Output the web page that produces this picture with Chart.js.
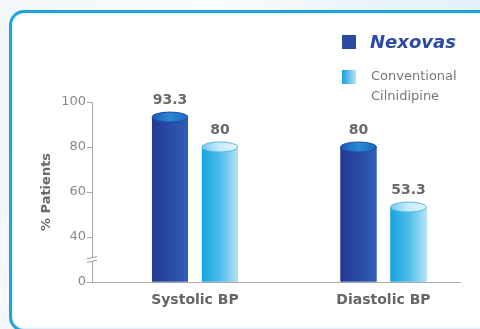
<!DOCTYPE html>
<html>
<head>
<meta charset="utf-8">
<script src="https://cdn.jsdelivr.net/npm/chart.js@4.4.0/dist/chart.umd.min.js"></script>
<style>
  html, body { margin: 0; padding: 0; width: 480px; height: 329px; overflow: hidden; }
  body {
    position: relative;
    background:
      linear-gradient(125deg, rgba(255,255,255,0) 0%, rgba(255,255,255,0.7) 30%, rgba(255,255,255,0) 55%),
      linear-gradient(160deg, #f2f8fc 0%, #e2eff8 45%, #d5e9f5 100%);
  }
  #panel {
    position: absolute; left: 9px; top: 10px; width: 500px; height: 322px;
    box-sizing: border-box; border: 3px solid #22a1db; border-radius: 15px;
    background: #fff; box-shadow: inset 0 0 3px rgba(34,161,219,0.35);
  }
  #wrap { position: absolute; left: 0; top: 0; width: 480px; height: 329px; }
</style>
</head>
<body>
<div id="panel"></div>
<div id="wrap"><canvas id="chart" width="480" height="329"></canvas></div>
<script>
// Response rates (% of patients) by blood-pressure component
const categories = ['Systolic BP', 'Diastolic BP'];
const nexovasValues = [93.3, 80];
const conventionalValues = [80, 53.3];
const seriesNames = ['Nexovas', 'Conventional\nCilnidipine'];

// Broken value axis: the lowest tick sits at 20 and is labelled 0
const yTickValues = [20, 40, 60, 80, 100];
const yTickLabels = ['0', '40', '60', '80', '100'];
const axisBreakValue = 30;

const FONT = 'DejaVu Sans';
const AXIS_GREY = '#a9a9a9';

const shades = [
  { body: ['#243a92', '#2a4aa5', '#2e5fb6'], cap: ['#175cb5', '#2b88d4', '#1c68bf'], ring: '#1d4ea6', swatch: '#2a4aa5' },
  { body: ['#16a2de', '#4cbce9', '#b8e3f7'], cap: ['#76c9ef', '#c9ecfb', '#e2f5fd'], ring: '#54bbe8', swatch: '#3db5e6' }
];

function toPoints(values) {
  return values.map((v, i) => ({ x: i + 1, y: v }));
}

// Cylinder look: shaded body plus an elliptical cap on every bar
const cylinderPlugin = {
  id: 'cylinder',
  afterDatasetsDraw(chart) {
    const ctx = chart.ctx;
    chart.data.datasets.forEach((ds, d) => {
      const meta = chart.getDatasetMeta(d);
      const s = shades[d];
      meta.data.forEach((el) => {
        const { x, y, base, width } = el.getProps(['x', 'y', 'base', 'width'], true);
        const left = x - width / 2;
        ctx.save();
        const g = ctx.createLinearGradient(left, 0, left + width, 0);
        g.addColorStop(0, s.body[0]);
        g.addColorStop(0.5, s.body[1]);
        g.addColorStop(1, s.body[2]);
        ctx.fillStyle = g;
        ctx.fillRect(left, y, width, base - y);
        const rx = width / 2, ry = 5;
        const cg = ctx.createLinearGradient(left, 0, left + width, 0);
        cg.addColorStop(0, s.cap[0]);
        cg.addColorStop(0.5, s.cap[1]);
        cg.addColorStop(1, s.cap[2]);
        ctx.beginPath();
        ctx.ellipse(x, y, rx, ry, 0, 0, Math.PI * 2);
        ctx.fillStyle = cg;
        ctx.fill();
        ctx.lineWidth = 1;
        ctx.strokeStyle = s.ring;
        ctx.stroke();
        ctx.restore();
      });
    });
  }
};

// Value printed above each bar
const valueLabelPlugin = {
  id: 'valueLabels',
  afterDatasetsDraw(chart) {
    const ctx = chart.ctx;
    ctx.save();
    ctx.font = 'bold 14px "' + FONT + '"';
    ctx.fillStyle = '#6a6a6a';
    ctx.textAlign = 'center';
    ctx.textBaseline = 'middle';
    chart.data.datasets.forEach((ds, d) => {
      const meta = chart.getDatasetMeta(d);
      meta.data.forEach((el, i) => {
        const v = ds.data[i].y;
        ctx.fillText(String(v), el.x, el.y - 17);
      });
    });
    ctx.restore();
  }
};

// Break marks on the value axis
const axisBreakPlugin = {
  id: 'axisBreak',
  afterDraw(chart) {
    const ctx = chart.ctx;
    const ys = chart.scales.y;
    const ax = chart.chartArea.left;
    const yb = ys.getPixelForValue(axisBreakValue);
    ctx.save();
    ctx.fillStyle = '#ffffff';
    ctx.fillRect(ax - 2, yb - 1.5, 4, 3);
    ctx.strokeStyle = '#9a9a9a';
    ctx.lineWidth = 1;
    [-1.8, 1.8].forEach((off) => {
      ctx.beginPath();
      ctx.moveTo(ax - 5, yb + off + 1);
      ctx.lineTo(ax + 5, yb + off - 1);
      ctx.stroke();
    });
    ctx.restore();
  }
};

// Legend in the upper right
const legendPlugin = {
  id: 'sideLegend',
  afterDraw(chart) {
    const ctx = chart.ctx;
    const x0 = 342, size = 14, textX = 370;
    ctx.save();
    ctx.fillStyle = shades[0].swatch;
    ctx.fillRect(x0, 35, size, size);
    ctx.font = 'italic bold 18px "' + FONT + '"';
    ctx.fillStyle = '#2c4aa3';
    ctx.textBaseline = 'middle';
    ctx.textAlign = 'left';
    ctx.fillText(seriesNames[0], textX, 43);
    const g = ctx.createLinearGradient(x0, 0, x0 + size, 0);
    g.addColorStop(0, '#14a0dd');
    g.addColorStop(1, '#b5e2f7');
    ctx.fillStyle = g;
    ctx.fillRect(x0, 70, size, size);
    ctx.font = '13px "' + FONT + '"';
    ctx.fillStyle = '#777777';
    seriesNames[1].split('\n').forEach((line, k) => {
      ctx.fillText(line, textX + 1, 77 + k * 20);
    });
    ctx.restore();
  }
};

new Chart(document.getElementById('chart'), {
  type: 'bar',
  data: {
    datasets: [
      { label: seriesNames[0], data: toPoints(nexovasValues), backgroundColor: shades[0].swatch, base: 20 },
      { label: seriesNames[1], data: toPoints(conventionalValues), backgroundColor: shades[1].swatch, base: 20 }
    ]
  },
  options: {
    responsive: false,
    animation: false,
    devicePixelRatio: 1,
    categoryPercentage: 0.53,
    barPercentage: 0.72,
    layout: { padding: { top: 102, right: 20, left: 0, bottom: 0 } },
    plugins: { legend: { display: false }, tooltip: { enabled: false } },
    scales: {
      x: {
        type: 'linear',
        offset: false,
        bounds: 'data',
        min: 0.454,
        max: 2.406,
        afterDataLimits(scale) { scale.min = 0.454; scale.max = 2.406; },
        afterBuildTicks(scale) { scale.ticks = categories.map((c, i) => ({ value: i + 1 })); },
        afterFit(scale) { scale.height = 47; },
        grid: { display: false, drawTicks: false, offset: false },
        border: { display: true, color: AXIS_GREY, width: 1 },
        ticks: {
          autoSkip: false,
          padding: 10,
          color: '#666666',
          font: { family: FONT, size: 14, weight: 'bold' },
          callback: (v) => categories[Math.round(v) - 1] || ''
        }
      },
      y: {
        type: 'linear',
        min: 20,
        max: 100,
        afterBuildTicks(scale) { scale.ticks = yTickValues.map((v) => ({ value: v })); },
        afterFit(scale) { scale.width = 92; },
        grid: { drawOnChartArea: false, drawTicks: true, tickLength: 5, color: AXIS_GREY },
        border: { display: true, color: AXIS_GREY, width: 1 },
        ticks: {
          padding: 1,
          color: '#888888',
          font: { family: FONT, size: 13 },
          callback: (v) => yTickLabels[yTickValues.indexOf(v)]
        },
        title: {
          display: true,
          text: '% Patients',
          color: '#6a6a6a',
          padding: { top: 39, bottom: 0 },
          font: { family: FONT, size: 13, weight: 'bold' }
        }
      }
    }
  },
  plugins: [cylinderPlugin, valueLabelPlugin, axisBreakPlugin, legendPlugin]
});
</script>
</body>
</html>
